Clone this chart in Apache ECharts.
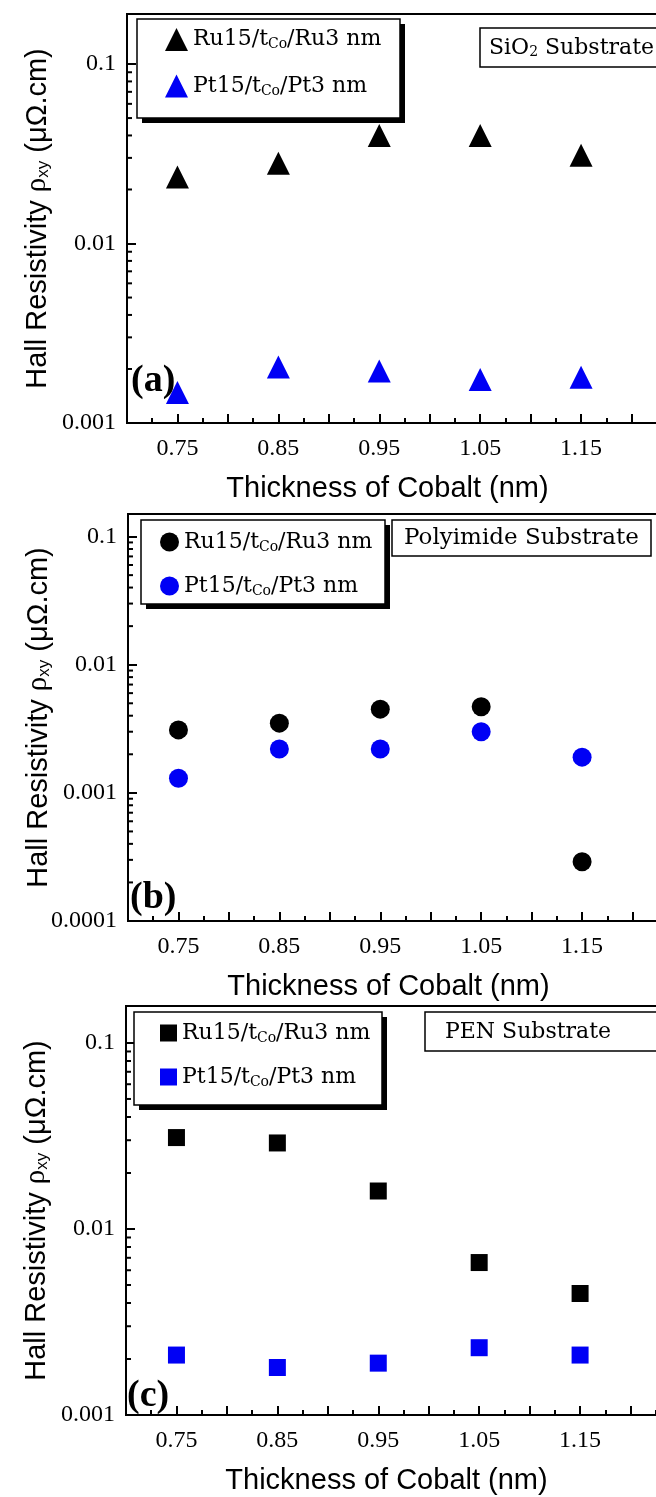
<!DOCTYPE html>
<html><head><meta charset="utf-8">
<script src="https://cdn.jsdelivr.net/npm/echarts@6/dist/echarts.min.js"></script>
<style>html,body{margin:0;padding:0;background:#fff}#c{width:656px;height:1497px}</style>
</head><body><div id="c"></div>
<script>
// ---- data ----
const thickness = [0.75, 0.85, 0.95, 1.05, 1.15];
const xTickLabels = ['0.75', '0.85', '0.95', '1.05', '1.15'];
const sio2Ru = [0.0235, 0.028, 0.040, 0.040, 0.031];
const sio2Pt = [0.00148, 0.00205, 0.00195, 0.00175, 0.0018];
const polyRu = [0.0031, 0.0035, 0.0045, 0.0047, 0.00029];
const polyPt = [0.0013, 0.0022, 0.0022, 0.0030, 0.0019];
const penRu = [0.031, 0.029, 0.016, 0.0066, 0.0045];
const penPt = [0.0021, 0.0018, 0.0019, 0.0023, 0.0021];
const substrates = ['SiO{s|2} Substrate', 'Polyimide Substrate', 'PEN Substrate'];
const panelLetters = ['(a)', '(b)', '(c)'];
const ruLabel = '{m|Ru15/t}{s|Co}{m|/Ru3 nm}';
const ptLabel = '{m|Pt15/t}{s|Co}{m|/Pt3 nm}';
const xTitle = 'Thickness of Cobalt (nm)';
const yTitle = 'Hall Resistivity {r|ρ}{s|xy} (μΩ.cm)';

// ---- layout / style ----
const serif = 'Liberation Serif';
const legSerif = 'DejaVu Serif';
const sans = 'Liberation Sans';
const BLUE = '#0000f5';
const panels = [
  {ru: sio2Ru, pt: sio2Pt, sym: 'triangle', size: 23, left: 127, top: 14, height: 409, ymin: 0.001, ymax: 0.19,
   box: [137, 19, 263, 99], leg: {left: 165, top: 28, gap: 23, tg: 10, fs: 22},
   sub: {left: 480, top: 28, pad: [9, 9, 8, 9], fs: 22}, lab: {left: 131, top: 362}},
  {ru: polyRu, pt: polyPt, sym: 'circle', size: 19, left: 128, top: 514, height: 407, ymin: 0.0001, ymax: 0.15,
   box: [141, 520, 244, 84], leg: {left: 160, top: 531, gap: 21, tg: 7, fs: 22},
   sub: {left: 392, top: 520, pad: [7, 12, 6, 12], fs: 23}, lab: {left: 130, top: 879}},
  {ru: penRu, pt: penPt, sym: 'rect', size: 17, left: 126, top: 1006, height: 409, ymin: 0.001, ymax: 0.158,
   box: [134, 1012, 248, 93], leg: {left: 160, top: 1022, gap: 21, tg: 8, fs: 22},
   sub: {left: 425, top: 1012, pad: [9, 60, 8, 20], fs: 22}, lab: {left: 127, top: 1377}}
];

function minorVals(lo, hi) {
  const out = [];
  for (let e = Math.round(Math.log10(lo)); Math.pow(10, e) < hi; e++) {
    for (let k = 2; k <= 9; k++) { const v = k * Math.pow(10, e); if (v < hi) out.push(v); }
  }
  return out;
}
function logLabel(v) {
  const l = Math.log10(v), r = Math.round(l);
  if (Math.abs(l - r) > 1e-6) return '';
  return r < 0 ? '0.' + '0'.repeat(-r - 1) + '1' : String(Math.pow(10, r));
}

const grid = [], xAxis = [], yAxis = [], series = [], legend = [], title = [], graphic = [];
panels.forEach((p, i) => {
  grid.push({left: p.left, top: p.top, width: 555, height: p.height, outerBoundsMode: 'none', containLabel: false,
    show: true, borderColor: '#000', borderWidth: 2, backgroundColor: 'transparent'});
  xAxis.push({
    type: 'value', gridIndex: i, min: 0.7, max: 1.25, interval: 0.05,
    axisLine: {lineStyle: {color: '#000', width: 2}},
    axisTick: {inside: true, length: 9, lineStyle: {color: '#000', width: 2}},
    minorTick: {show: true, splitNumber: 2, length: 5, lineStyle: {color: '#000', width: 2}},
    splitLine: {show: false},
    axisLabel: {formatter: v => { const s = v.toFixed(2); return xTickLabels.includes(s) ? s : ''; },
      fontFamily: serif, fontSize: 24, color: '#000', margin: 14, showMaxLabel: false},
    name: xTitle, nameLocation: 'middle', nameGap: 51, nameMoveOverlap: false,
    nameTextStyle: {fontFamily: sans, fontSize: 29, color: '#000', padding: [0, 34, 0, 0]}
  });
  yAxis.push({
    type: 'log', logBase: 10, gridIndex: i, min: p.ymin, max: p.ymax,
    axisLine: {lineStyle: {color: '#000', width: 2}},
    axisTick: {inside: true, length: 9, lineStyle: {color: '#000', width: 2}},
    splitLine: {show: false}, minorTick: {show: false}, minorSplitLine: {show: false},
    axisLabel: {formatter: logLabel, fontFamily: serif, fontSize: 24, color: '#000', margin: 11, showMaxLabel: false},
    name: yTitle, nameLocation: 'middle', nameRotate: 90, nameGap: 75, nameMoveOverlap: false,
    nameTextStyle: {fontFamily: sans, fontSize: 29, color: '#000',
      rich: {r: {fontFamily: serif, fontSize: 29, color: '#000'}, s: {fontFamily: sans, fontSize: 17, color: '#000', verticalAlign: 'bottom', padding: [7, 0, 0, 0]}}}
  });
  series.push({
    type: 'scatter', name: 'Ru-' + i, xAxisIndex: i, yAxisIndex: i, symbol: p.sym, symbolSize: p.size,
    itemStyle: {color: '#000', opacity: 1}, data: thickness.map((x, j) => [x, p.ru[j]]), z: 3
  });
  series.push({
    type: 'scatter', name: 'Pt-' + i, xAxisIndex: i, yAxisIndex: i, symbol: p.sym, symbolSize: p.size,
    itemStyle: {color: BLUE, opacity: 1}, data: thickness.map((x, j) => [x, p.pt[j]]), z: 3
  });
  series.push({
    type: 'scatter', name: 'minor-' + i, xAxisIndex: i, yAxisIndex: i, symbol: 'rect', symbolSize: [5, 2],
    symbolOffset: [2.5, 0], itemStyle: {color: '#000', opacity: 1}, clip: false, silent: true,
    data: minorVals(p.ymin, p.ymax).map(v => [0.7, v]), z: 2
  });
  const [bx, by, bw, bh] = p.box;
  graphic.push({type: 'rect', z: 20, shape: {x: bx + 5, y: by + 5, width: bw, height: bh}, style: {fill: '#000'}});
  graphic.push({type: 'rect', z: 21, shape: {x: bx, y: by, width: bw, height: bh}, style: {fill: '#fff', stroke: '#000', lineWidth: 1.5}});
  legend.push({
    data: ['Ru-' + i, 'Pt-' + i], orient: 'vertical', left: p.leg.left, top: p.leg.top, z: 30,
    itemWidth: p.size, itemHeight: p.size, itemGap: p.leg.gap, itemTextGap: p.leg.tg, padding: 0,
    backgroundColor: 'transparent', borderWidth: 0,
    selectedMode: false, inactiveColor: '#000',
    formatter: n => n.startsWith('Ru') ? ruLabel : ptLabel,
    textStyle: {color: '#000', rich: {
      m: {fontFamily: legSerif, fontSize: p.leg.fs, lineHeight: 24, color: '#000'},
      s: {fontFamily: legSerif, fontSize: 14, color: '#000', verticalAlign: 'bottom', padding: [8, 0, 0, 0]}}}
  });
  title.push({
    text: substrates[i], left: p.sub.left, top: p.sub.top, padding: p.sub.pad, z: 25,
    borderColor: '#000', borderWidth: 1.5, backgroundColor: '#fff',
    textStyle: {fontFamily: legSerif, fontSize: p.sub.fs, fontWeight: 'normal', color: '#000',
      rich: {s: {fontFamily: legSerif, fontSize: 14, color: '#000', verticalAlign: 'bottom', padding: [8, 0, 0, 0]}}}
  });
  title.push({
    text: panelLetters[i], left: p.lab.left, top: p.lab.top, padding: 0, z: 25,
    textStyle: {fontFamily: serif, fontSize: 38, fontWeight: 'bold', color: '#000'}
  });
});

const chart = echarts.init(document.getElementById('c'), null, {renderer: 'canvas'});
chart.setOption({animation: false, backgroundColor: '#fff', grid, xAxis, yAxis, series, legend, title, graphic});
</script>
</body></html>
